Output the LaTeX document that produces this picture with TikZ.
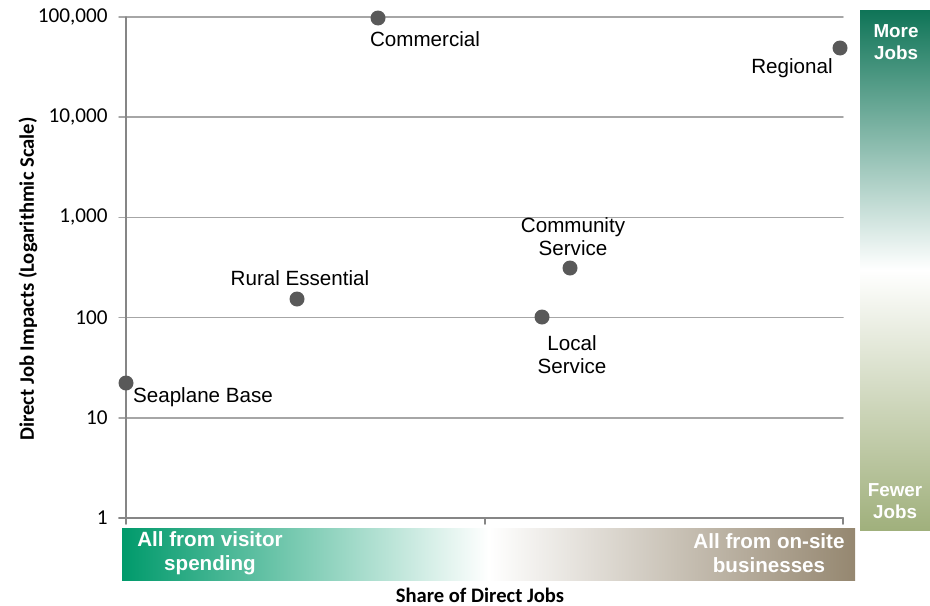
\documentclass[tikz,border=0pt]{standalone}
\usepackage{fontspec}
\setmainfont{Liberation Sans}
\newfontfamily\calib{Carlito}
\usetikzlibrary{positioning}

\definecolor{gridgray}{HTML}{A6A6A6}
\definecolor{axisgray}{HTML}{868686}
\definecolor{dotgray}{HTML}{595959}
\definecolor{visgreen}{HTML}{009A6B}
\definecolor{sitetan}{HTML}{958770}
\definecolor{morejobs}{HTML}{0F7457}
\definecolor{fewerjobs}{HTML}{A0B07C}

\begin{document}
\begin{tikzpicture}[x=0.5pt, y=-0.5pt, line join=round, line cap=round,
	dot/.style={circle, fill=dotgray, inner sep=0pt, minimum size=7.5pt},
	lbl/.style={font=\fontsize{10.3}{11.5}\selectfont, align=center, inner sep=0pt},
	ticklbl/.style={font=\calib\fontsize{10.6}{12}\selectfont, anchor=east, inner sep=0pt},
	axtitle/.style={font=\calib\bfseries\fontsize{10.3}{12}\selectfont, inner sep=0pt},
	bartext/.style={font=\bfseries\fontsize{10.3}{12}\selectfont, text=white, align=center, inner sep=0pt},
	jobtext/.style={font=\bfseries\fontsize{9.4}{11}\selectfont, text=white, align=center, inner sep=0pt}]
	\useasboundingbox (0,0) rectangle (930,605);
	% gradient bars
	\shade[left color=visgreen, right color=sitetan, middle color=white] (122,528) rectangle (855,580);
	\shade[top color=morejobs, bottom color=fewerjobs, middle color=white] (860,10) rectangle (930,530);
	% grid and axes
	\foreach \k/\txt in {0/1, 1/10, 2/100, 3/{1,000}, 4/{10,000}, 5/{100,000}}{
		\draw[gridgray, line width=0.75pt] (119,518-100.2*\k) -- (843,518-100.2*\k);
		\node[ticklbl] (y\k) at (108,518-100.2*\k) {\txt};
	}
	\draw[axisgray, line width=0.75pt] (126,17) -- (126,524);
	\draw[axisgray, line width=0.75pt] (119,518) -- (843,518);
	\draw[axisgray, line width=0.75pt] (485,518) -- (485,524) (843,518) -- (843,524);
	% points
	\node[dot] (comm) at (378,18) {};
	\node[dot] (reg) at (840,48) {};
	\node[dot] (csvc) at (570,268) {};
	\node[dot] (rural) at (297,299) {};
	\node[dot] (lsvc) at (542,317) {};
	\node[dot] (sea) at (126,383) {};
	\node[lbl] (commL) at (425,39) {Commercial};
	\node[lbl] (regL) at (792,68) {Regional};
	\node[lbl] (csvcL) at (573,237) {Community\\Service};
	\node[lbl] (ruralL) at (300,278) {Rural Essential};
	\node[lbl] (lsvcL) at (572,355) {Local\\Service};
	\node[lbl] (seaL) at (203,397) {Seaplane Base};
	% bar texts
	\node[bartext] (vis) at (210,553) {All from visitor\\spending};
	\node[bartext] (site) at (769,553) {All from on-site\\businesses};
	\node[jobtext] (more) at (896,42) {More\\Jobs};
	\node[jobtext] (fewer) at (895,501) {Fewer\\Jobs};
	% axis titles
	\node[axtitle, rotate=90] (ytitle) at (28,279) {Direct Job Impacts (Logarithmic Scale)};
	\node[axtitle] (xtitle) at (480,595) {Share of Direct Jobs};
\end{tikzpicture}
\end{document}
